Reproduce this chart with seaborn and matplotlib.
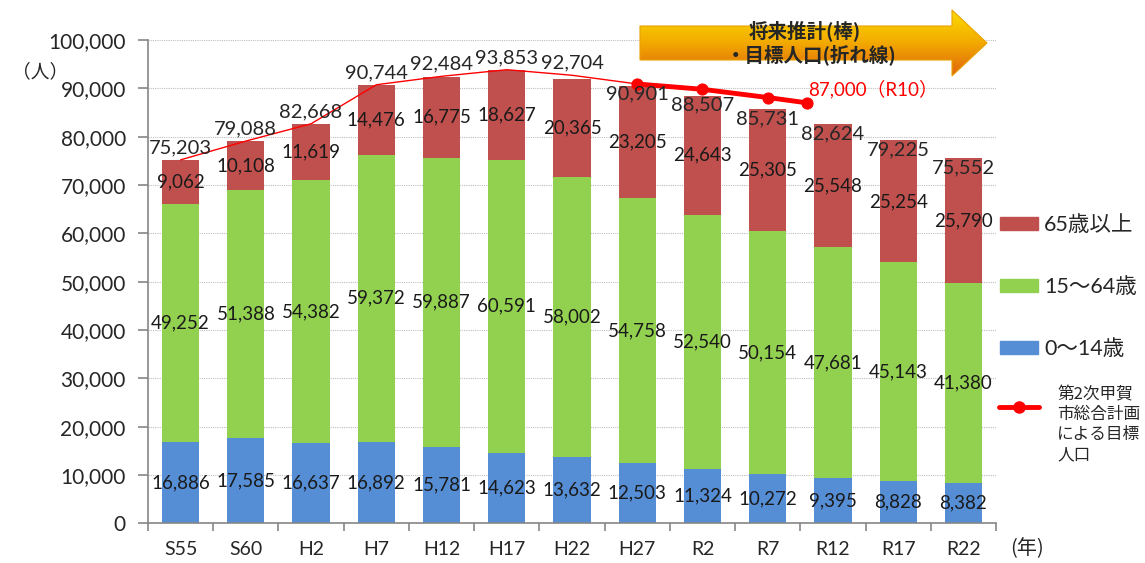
import matplotlib
matplotlib.use("Agg")
import matplotlib.pyplot as plt
import seaborn as sns
import numpy as np
import pandas as pd
from matplotlib.patches import Patch, Polygon
from matplotlib.lines import Line2D
from matplotlib.colors import LinearSegmentedColormap
from matplotlib.ticker import MultipleLocator, FuncFormatter

years = ["S55", "S60", "H2", "H7", "H12", "H17", "H22", "H27", "R2", "R7", "R12", "R17", "R22"]
years_ad = [1980, 1985, 1990, 1995, 2000, 2005, 2010, 2015, 2020, 2025, 2030, 2035, 2040]
age_0_14 = [16886, 17585, 16637, 16892, 15781, 14623, 13632, 12503, 11324, 10272, 9395, 8828, 8382]
age_15_64 = [49252, 51388, 54382, 59372, 59887, 60591, 58002, 54758, 52540, 50154, 47681, 45143, 41380]
age_65 = [9062, 10108, 11619, 14476, 16775, 18627, 20365, 23205, 24643, 25305, 25548, 25254, 25790]
totals = [75203, 79088, 82668, 90744, 92484, 93853, 92704, 90901, 88507, 85731, 82624, 79225, 75552]
n_actual = 8  # S55 .. H27 are census figures

target_years = [2015, 2020, 2025, 2028]
target_vals = [90901, 89800, 88100, 87000]
target_label = "第2次甲賀\n市総合計画\nによる目標\n人口"

RED = "#C0504D"
GREEN = "#92D050"
BLUE = "#558ED5"
AXIS_GRAY = "#868686"
JP = ["Noto Sans CJK JP", "DejaVu Sans"]

sns.set_theme(style="white")
plt.rcParams["font.family"] = ["Lato", "Noto Sans CJK JP", "DejaVu Sans"]

df = pd.DataFrame({"year": years, "young": age_0_14, "working": age_15_64, "old": age_65})
df["working_top"] = df["young"] + df["working"]
df["old_top"] = df["working_top"] + df["old"]

fig = plt.figure(figsize=(11.45, 5.63), dpi=100)
ax = fig.add_axes([148 / 1145, 1 - 523.3 / 563, 848 / 1145, 483.3 / 563])

for col, color in [("old_top", RED), ("working_top", GREEN), ("young", BLUE)]:
    sns.barplot(data=df, x="year", y=col, color=color, width=0.57, saturation=1,
                errorbar=None, edgecolor="none", ax=ax)

# position of a calendar year on the category axis
def year_pos(y):
    return np.interp(y, years_ad, np.arange(len(years_ad)))

sns.lineplot(x=np.arange(n_actual), y=totals[:n_actual], color="red", linewidth=1.0, ax=ax)
tx = [year_pos(y) for y in target_years]
sns.lineplot(x=tx, y=target_vals, color="red", linewidth=3.5, marker="o", markersize=8,
             markeredgecolor="red", ax=ax)

for i in range(len(years)):
    ax.text(i, age_0_14[i] / 2, f"{age_0_14[i]:,}", ha="center", va="center", fontsize=13.5, color="#1a1a1a")
    ax.text(i, age_0_14[i] + age_15_64[i] / 2, f"{age_15_64[i]:,}", ha="center", va="center",
            fontsize=13.5, color="#1a1a1a")
    ax.text(i, df["working_top"][i] + age_65[i] / 2, f"{age_65[i]:,}", ha="center", va="center",
            fontsize=13.5, color="#1a1a1a")
    if i < n_actual - 1:
        ax.text(i, totals[i] + 2500, f"{totals[i]:,}", ha="center", va="center", fontsize=14.5)
    else:
        ax.text(i, totals[i] - 2000, f"{totals[i]:,}", ha="center", va="center", fontsize=14.5)

ax.annotate(f"{target_vals[-1]:,}（R10）", xy=(tx[-1], target_vals[-1]), xytext=(1, 10),
            textcoords="offset points", ha="left", va="center", fontsize=13.5, color="red")

ax.set_xlim(-0.5, len(years) - 0.5)
ax.set_ylim(0, 100000)
ax.set_xlabel("")
ax.set_ylabel("")
ax.yaxis.set_major_locator(MultipleLocator(10000))
ax.yaxis.set_major_formatter(FuncFormatter(lambda v, p: f"{int(v):,}"))
ax.set_xticks(np.arange(-0.5, len(years), 1), minor=True)
ax.tick_params(axis="x", which="major", length=0, pad=13, labelsize=14)
ax.tick_params(axis="x", which="minor", length=6, width=1.2, color=AXIS_GRAY, direction="out", bottom=True)
ax.tick_params(axis="y", length=7, width=1.2, color=AXIS_GRAY, labelsize=15, pad=9, left=True)
ax.grid(axis="y", color="#BFBFBF", linestyle=(0, (1, 1)), linewidth=0.8)
ax.set_axisbelow(True)
for s in ["top", "right"]:
    ax.spines[s].set_visible(False)
for s in ["left", "bottom"]:
    ax.spines[s].set_color(AXIS_GRAY)
    ax.spines[s].set_linewidth(1.2)

fig.text(40 / 1145, 1 - 72 / 563, "（人）", ha="center", va="center", fontsize=13.5, family=JP)
fig.text(1027 / 1145, 1 - 549 / 563, "(年)", ha="center", va="center", fontsize=14.5, family=JP)

bar_handles = [Patch(color=RED, label="65歳以上"),
               Patch(color=GREEN, label="15～64歳"),
               Patch(color=BLUE, label="0～14歳")]
fig.legend(handles=bar_handles, loc="upper left", bbox_to_anchor=(1000 / 1145, 1 - 215 / 563),
           frameon=False, fontsize=15.5, handlelength=1.75, handleheight=0.6,
           handletextpad=0.3, labelspacing=1.95, borderaxespad=0, borderpad=0)

# line legend: handle from a legend, wrapped label as its own text
line_handle = [Line2D([0], [0], color="red", linewidth=3.5, marker="o", markersize=8, label=" ")]
fig.legend(handles=line_handle, loc="center left", bbox_to_anchor=(999 / 1145, 1 - 408 / 563),
           frameon=False, fontsize=12, handlelength=2.4, handletextpad=0.0,
           borderaxespad=0, borderpad=0)
fig.text(1057 / 1145, 1 - 386 / 563, target_label, ha="left", va="top", fontsize=12,
         family=JP, linespacing=1.25)

# gradient arrow at the top
over = fig.add_axes([0, 0, 1, 1], zorder=5)
over.axis("off")
arrow_pts = [(640, 26), (952, 26), (952, 10), (987, 43), (952, 76), (952, 60), (640, 60)]
poly = Polygon(arrow_pts, closed=True, facecolor="none", edgecolor="#E8A200", linewidth=0.8)
over.add_patch(poly)
cmap = LinearSegmentedColormap.from_list("arrow", ["#FCDC00", "#F2A900", "#E0650F"])
im = over.imshow(np.linspace(0, 1, 100).reshape(-1, 1), cmap=cmap, extent=(640, 987, 76, 10), aspect="auto")
im.set_clip_path(poly)
over.set_xlim(0, 1145)
over.set_ylim(563, 0)
over.text(805, 31, "将来推計(棒)", ha="center", va="center", fontsize=14, fontweight="bold", family=JP)
over.text(811, 55, "・目標人口(折れ線)", ha="center", va="center", fontsize=14, fontweight="bold", family=JP)

fig.savefig("out.png", dpi=100)
